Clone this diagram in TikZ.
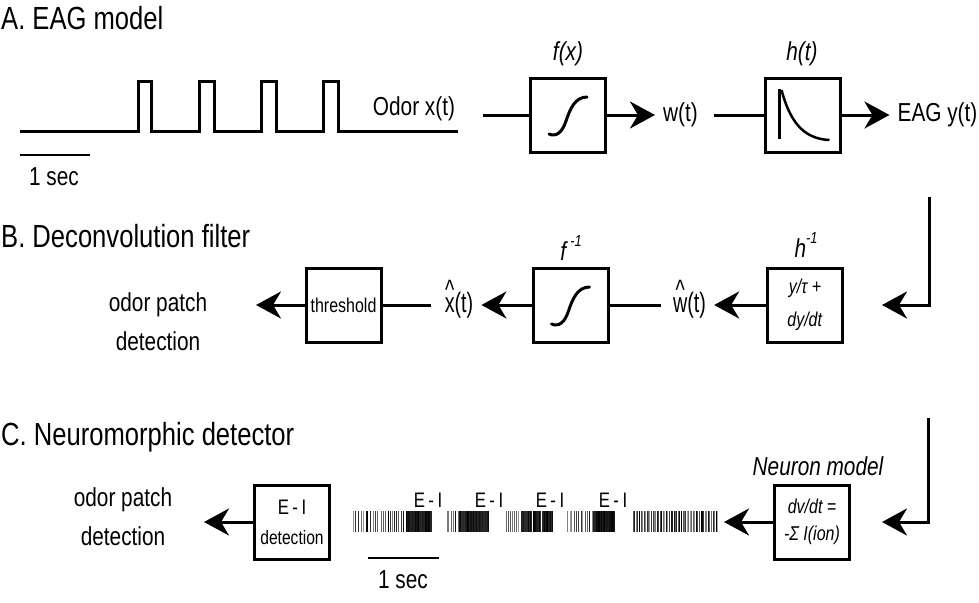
\documentclass[tikz,border=0pt]{standalone}
\usepackage{fontspec}
\setmainfont{Liberation Sans}[FakeStretch=0.8]
\usetikzlibrary{arrows.meta}

\tikzset{
  conn/.style={line width=3pt},
  arr/.style={line width=3pt, -{Stealth[length=25pt,width=27pt,inset=8pt]}},
  blk/.style={draw, line width=3pt, minimum width=75pt, minimum height=74pt, inner sep=0pt, align=center},
  lbl/.style={font=\fontsize{26}{39}\selectfont, inner sep=8pt, align=center},
  ilbl/.style={font=\fontsize{26}{30}\selectfont\itshape, inner sep=8pt},
  ttl/.style={font=\fontsize{32}{36}\selectfont, anchor=base west, inner sep=0pt},
  boxtxt/.style={font=\fontsize{20}{33}\selectfont},
  trace/.style={line width=3pt, line join=miter},
  sbar/.style={line width=1.5pt},
  curv/.style={line width=3pt, line cap=round},
  eilbl/.style={font=\fontsize{21}{21}\selectfont, inner sep=0pt}
}

% #1 start, #2 end, #3 step, #4 minimum darkness, #5 line width
\newcommand\rasterspikes[5]{%
  \pgfmathtruncatemacro\spkn{(#2-#1)/#3}%
  \foreach \spki in {0,...,\spkn}{%
    \pgfmathsetmacro\spkx{#1+\spki*#3+rnd*#3*0.5}%
    \pgfmathrandominteger{\spkg}{#4}{100}%
    \draw[line width=#5,black!\spkg] (\spkx,511) -- (\spkx,532);
  }}

\newcommand\hatover[1]{{\ooalign{#1\cr\hidewidth\raisebox{0.44em}{\textasciicircum}\hidewidth\cr}}}
\newcommand\hatlabel[1]{\scalebox{0.88}[1]{\fontsize{28}{28}\selectfont\smash{\hatover{#1}}(t)}}
\newcommand\supinv{\raisebox{0.55em}{\fontsize{16}{16}\selectfont\itshape -1}}

\begin{document}
\begin{tikzpicture}[x=1pt,y=-1pt]
\useasboundingbox (0,0) rectangle (979,602);

% ---------- titles
\node[ttl] (tA) at (1,30) {A. EAG model};
\node[ttl] (tB) at (1,247) {B. Deconvolution filter};
\node[ttl] (tC) at (1,445) {C. Neuromorphic detector};

% ---------- A. EAG model
\draw[trace] (20,131) -- (138,131) -- (138,81) -- (151,81) -- (151,131)
  -- (199,131) -- (199,81) -- (214,81) -- (214,131)
  -- (261,131) -- (261,81) -- (276,81) -- (276,131)
  -- (323,131) -- (323,81) -- (338,81) -- (338,131) -- (458,131);
\coordinate (sbA1) at (20,155);
\coordinate (sbA2) at (90,155);
\draw[sbar] (sbA1) -- (sbA2);
\node[lbl] (secA) at (54,177) {1 sec};
\node[lbl] (odor) at (414,109) {Odor x(t)};

\coordinate (oin) at (483,115);
\node[blk] (fbox) at (568,115) {};
\node[ilbl] (flab) at (568,54) {f(x)};
\draw[conn] (oin) -- (fbox);
\begin{scope}[shift={(fbox.center)}]
  \draw[curv] (-19,19) .. controls (-12,22) and (-6,18) .. (-2,6)
              .. controls (2,-6) and (7,-18) .. (19,-18);
\end{scope}

\node[lbl] (wt) at (680.5,115) {w(t)};
\draw[arr] (fbox) -- (wt);

\node[blk] (hbox) at (802.5,115) {};
\node[ilbl] (hlab) at (802,54) {h(t)};
\draw[conn] ([xshift=8pt]wt.east) -- (hbox);
\begin{scope}[shift={(hbox.center)}]
  \draw[line width=3pt] (-23.5,-26) -- (-23.5,24);
  \draw[line width=2.5pt] (-21,-25) .. controls (-13,5) and (0,24) .. (27,25);
\end{scope}

\node[lbl] (eag) at (937.5,115) {EAG y(t)};
\draw[arr] (hbox) -- (eag);

% ---------- B. Deconvolution filter
\coordinate (b1) at (929,197);
\coordinate (b2) at (882,305);
\draw[arr] (b1) |- (b2);

\node[blk, boxtxt] (hinv) at (805,305) {\textit{y/τ +}\\\textit{dy/dt}};
\node[ilbl] (hinvlab) at (806,245) {h\supinv};

\node[lbl] (what) at (689.5,305) {\hatlabel{w}};
\draw[arr] (hinv) -- (what);

\node[blk] (finv) at (570.5,305) {};
\node[ilbl] (finvlab) at (571,248) {f\,\supinv};
\draw[conn] ([xshift=-4pt]what.west) -- (finv);
\begin{scope}[shift={(finv.center)}]
  \draw[curv] (-19,19) .. controls (-12,22) and (-6,18) .. (-2,6)
              .. controls (2,-6) and (7,-18) .. (19,-18);
\end{scope}

\node[lbl] (xhat) at (459,305) {\hatlabel{x}};
\draw[arr] (finv) -- (xhat);

\node[blk, boxtxt] (thr) at (343.5,305) {threshold};
\draw[conn] ([xshift=-6pt]xhat.west) -- (thr);

\coordinate (bout) at (256,305);
\draw[arr] (thr) -- (bout);
\node[lbl] (opdB) at (158,322) {odor patch\\detection};

% ---------- C. Neuromorphic detector
\coordinate (c1) at (928,418);
\coordinate (c2) at (882,522);
\draw[arr] (c1) |- (c2);

\node[blk, font=\fontsize{20}{27}\selectfont\itshape] (neur) at (812,522) {dv/dt =\\-Σ I(ion)};
\node[ilbl] (neurlab) at (818,466) {Neuron model};

\coordinate (rasterend) at (724,522);
\draw[arr] (neur) -- (rasterend);

% spike raster
\pgfmathsetseed{42}
\rasterspikes{353}{375}{2.4}{40}{0.8pt}
\rasterspikes{377}{378}{2}{60}{0.8pt}
\rasterspikes{381}{404}{2.2}{35}{0.8pt}
\rasterspikes{406}{431}{0.8}{85}{1.1pt}
\rasterspikes{446}{458}{2.2}{40}{0.8pt}
\rasterspikes{459}{489}{0.9}{80}{1.1pt}
\rasterspikes{505}{520}{2.2}{40}{0.8pt}
\rasterspikes{521}{553}{0.9}{80}{1.1pt}
\rasterspikes{567}{592}{2.2}{40}{0.8pt}
\rasterspikes{593}{614}{0.8}{85}{1.1pt}
\rasterspikes{633}{717}{1.5}{35}{0.9pt}

\node[eilbl] (ei1) at (428,500) {E\,-\,I};
\node[eilbl] (ei2) at (489,500) {E\,-\,I};
\node[eilbl] (ei3) at (550,500) {E\,-\,I};
\node[eilbl] (ei4) at (613,500) {E\,-\,I};

\coordinate (sbC1) at (368,558);
\coordinate (sbC2) at (439,558);
\draw[sbar] (sbC1) -- (sbC2);
\node[lbl] (secC) at (403,580) {1 sec};

\node[blk, font=\fontsize{19.5}{30}\selectfont] (eid) at (292,522) {{\fontsize{21}{21}\selectfont E\,-\,I}\\detection};
\coordinate (cout) at (204,522);
\draw[arr] (eid) -- (cout);
\node[lbl] (opdC) at (123,517) {odor patch\\detection};

\end{tikzpicture}
\end{document}
